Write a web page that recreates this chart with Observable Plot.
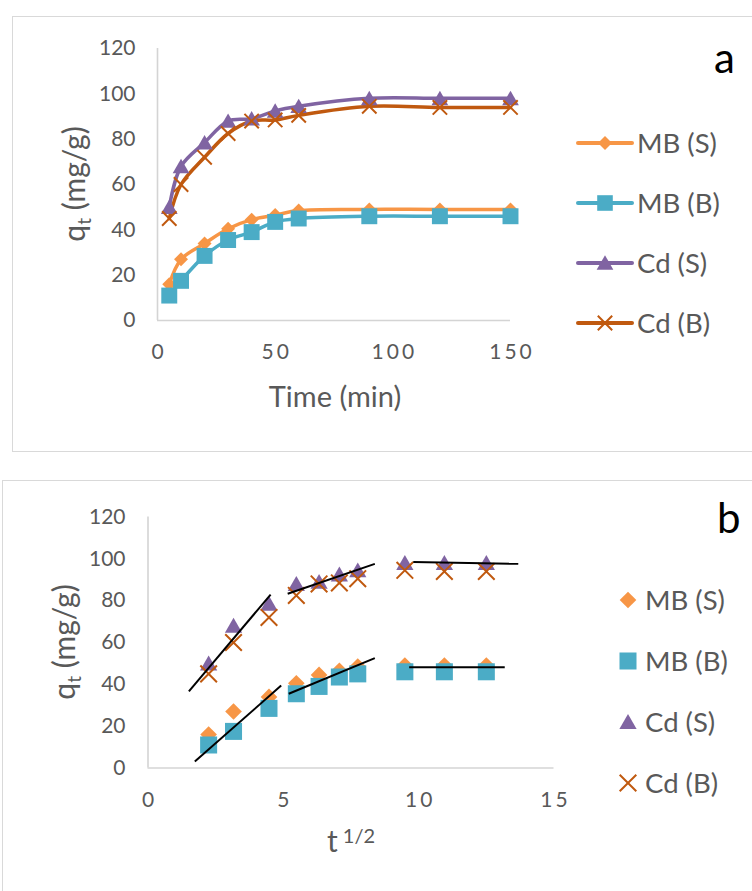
<!DOCTYPE html>
<html><head><meta charset="utf-8">
<script src="https://cdn.jsdelivr.net/npm/d3@7"></script>
<script src="https://cdn.jsdelivr.net/npm/@observablehq/plot@0.6"></script>
<style>
html,body{margin:0;padding:0;background:#fff;}
body{width:752px;height:891px;overflow:hidden;position:relative;font-family:Lato,"Open Sans",sans-serif;}
.box{position:absolute;border:1.5px solid #D9D9D9;box-sizing:border-box;}
.panel{position:absolute;left:0;}
</style></head><body>
<div class="box" style="left:12px;top:16px;width:800px;height:436px"></div>
<div class="box" style="left:2px;top:480px;width:800px;height:500px"></div>
<div id="pa" class="panel" style="top:0px"></div>
<div id="pb" class="panel" style="top:465px"></div>
<script>
// ---------- data ----------
const seriesNames = ["MB (S)", "MB (B)", "Cd (S)", "Cd (B)"];
const seriesColors = ["#F79646", "#4BACC6", "#8064A2", "#C0590F"];
const seriesSymbols = ["diamond2", "square", "triangle", "times"];
const timeMin = [5, 10, 20, 30, 40, 50, 60, 90, 120, 150];
const sqrtTime = [2.24, 3.16, 4.47, 5.48, 6.32, 7.07, 7.75, 9.49, 10.95, 12.5];
const qMBS = [16, 27, 34, 40.5, 44.5, 46.5, 48.5, 49, 49, 49];
const qMBB = [11, 17.5, 28.5, 35.5, 39, 43.5, 45, 46, 46, 46];
const qCdS = [50, 68, 78.5, 88, 89, 92.5, 94.5, 98, 98, 98];
const qCdB = [45, 60, 72, 82.5, 88, 88.5, 90.5, 94.5, 94, 94];
const yTicks = [0, 20, 40, 60, 80, 100, 120];
const xTicksA = [0, 50, 100, 150];
const xTicksB = [0, 5, 10, 15];
// intra-particle diffusion fit segments (panel b)
const fitX1 = [1.51, 5.16, 9.80, 1.73, 5.20, 9.65];
const fitY1 = [36.6, 83.3, 98.5, 3.1, 35.5, 48.2];
const fitX2 = [4.53, 8.38, 13.68, 4.92, 8.38, 13.18];
const fitY2 = [82.9, 97.6, 97.6, 39.4, 52.5, 48.2];

const qAll = [qMBS, qMBB, qCdS, qCdB];
const rows = [];
seriesNames.forEach((s, i) => timeMin.forEach((t, j) => rows.push({series: s, t, st: sqrtTime[j], q: qAll[i][j]})));
const fits = fitX1.map((x1, i) => ({x1, y1: fitY1[i], x2: fitX2[i], y2: fitY2[i]}));

const FONT = "Lato, 'Open Sans', sans-serif";
const GREY = "#595959";
const AXIS = "#D4D4D4";

function dotMarks(xKey, rs) {
  return seriesNames.map((s, i) => {
    const sym = seriesSymbols[i];
    const data = rows.filter(d => d.series === s);
    if (sym === "times") {
      return Plot.dot(data, {x: xKey, y: "q", symbol: sym, r: rs[i], stroke: seriesColors[i], strokeWidth: 2, fill: "none"});
    }
    return Plot.dot(data, {x: xKey, y: "q", symbol: sym, r: rs[i], fill: seriesColors[i], stroke: "none", dy: sym === "triangle" ? 2 : 0});
  });
}

function addLegend(svg, x0, y0, step, withLine, rs, markerX, textX) {
  const g = d3.select(svg).append("g").attr("font-family", FONT).attr("font-size", 27.5)
    .attr("fill", GREY).attr("text-anchor", "start");
  const map = {diamond2: d3.symbolDiamond2, square: d3.symbolSquare, triangle: d3.symbolTriangle, times: d3.symbolTimes};
  seriesNames.forEach((s, i) => {
    const y = y0 + i * step;
    if (withLine) {
      g.append("line").attr("x1", x0).attr("x2", x0 + 54).attr("y1", y).attr("y2", y)
        .attr("stroke", seriesColors[i]).attr("stroke-width", 4).attr("stroke-linecap", "round");
    }
    const path = d3.symbol(map[seriesSymbols[i]], Math.PI * rs[i] * rs[i])();
    const p = g.append("path").attr("d", path)
      .attr("transform", `translate(${markerX},${y + (seriesSymbols[i] === "triangle" ? 2 : 0)})`);
    if (seriesSymbols[i] === "times") p.attr("fill", "none").attr("stroke", seriesColors[i]).attr("stroke-width", 2);
    else p.attr("fill", seriesColors[i]);
    g.append("text").attr("x", textX).attr("y", y).attr("dy", "0.36em").text(s);
  });
}

function yTitle(svg, x, y) {
  const t = d3.select(svg).append("text").attr("transform", `translate(${x},${y}) rotate(-90)`)
    .attr("text-anchor", "middle").attr("font-family", FONT).attr("font-size", 30).attr("fill", GREY);
  t.append("tspan").text("q");
  t.append("tspan").attr("font-size", 19).attr("dy", 6).text("t");
  t.append("tspan").attr("dy", -6).text(" (mg/g)");
}

// ---------- panel a ----------
const plotA = Plot.plot({
  width: 752, height: 455,
  marginLeft: 157, marginRight: 242, marginTop: 48, marginBottom: 135,
  x: {domain: [0, 150]}, y: {domain: [0, 120]},
  style: {background: "none", color: GREY, fontFamily: FONT, fontSize: "21px", overflow: "visible"},
  marks: [
    Plot.ruleY([0], {stroke: AXIS, strokeWidth: 1.6}),
    Plot.ruleX([0], {stroke: AXIS, strokeWidth: 1.6}),
    Plot.axisX({ticks: xTicksA, tickSize: 0, tickPadding: 24, label: null}),
    Plot.axisY({ticks: yTicks, tickSize: 0, tickPadding: 22, label: null}),
    ...seriesNames.map((s, i) => Plot.line(rows.filter(d => d.series === s), {x: "t", y: "q", stroke: seriesColors[i], strokeWidth: 3.5, curve: "catmull-rom"})),
    ...dotMarks("t", [6.3, 9, 6.2, 6.6])
  ]
});
document.getElementById("pa").appendChild(plotA);
d3.select(plotA).selectAll('g[aria-label="x-axis tick label"] text').style("letter-spacing", "3px").attr("dx", 1.5);
d3.select(plotA).append("text").attr("x", 335).attr("y", 407).attr("text-anchor", "middle")
  .attr("font-family", FONT).attr("font-size", 29).attr("fill", GREY).text("Time (min)");
yTitle(plotA, 85, 184);
d3.select(plotA).append("text").attr("x", 714).attr("y", 73).attr("text-anchor", "start")
  .attr("font-family", FONT).attr("font-size", 42).attr("fill", "#000").text("a");
addLegend(plotA, 578, 143, 60, true, [6.3, 8.8, 6.2, 6.6], 605, 637);

// ---------- panel b ----------
const plotB = Plot.plot({
  width: 752, height: 426,
  marginLeft: 147.5, marginRight: 198.5, marginTop: 51.5, marginBottom: 123.5,
  x: {domain: [0, 15]}, y: {domain: [0, 120]},
  style: {background: "none", color: GREY, fontFamily: FONT, fontSize: "21px", overflow: "visible"},
  marks: [
    Plot.ruleY([0], {stroke: AXIS, strokeWidth: 1.6}),
    Plot.ruleX([0], {stroke: AXIS, strokeWidth: 1.6}),
    Plot.axisX({ticks: xTicksB, tickSize: 0, tickPadding: 24, label: null}),
    Plot.axisY({ticks: yTicks, tickSize: 0, tickPadding: 22.5, label: null}),
    ...dotMarks("st", [7.5, 9.6, 6.4, 7.6]),
    Plot.link(fits, {x1: "x1", y1: "y1", x2: "x2", y2: "y2", stroke: "#000", strokeWidth: 2})
  ]
});
document.getElementById("pb").appendChild(plotB);
d3.select(plotB).selectAll('g[aria-label="x-axis tick label"] text').style("letter-spacing", "3px").attr("dx", 1.5);
{
  const t = d3.select(plotB).append("text").attr("x", 351).attr("y", 852 - 465).attr("text-anchor", "middle")
    .attr("font-family", FONT).attr("font-size", 30).attr("fill", GREY);
  t.append("tspan").text("t");
  t.append("tspan").attr("font-size", 20).attr("dy", -9).text(" 1/2");
}
yTitle(plotB, 75, 642 - 465);
d3.select(plotB).append("text").attr("x", 717).attr("y", 533 - 465).attr("text-anchor", "start")
  .attr("font-family", FONT).attr("font-size", 42).attr("fill", "#000").text("b");
addLegend(plotB, 0, 600 - 465, 61, false, [7.5, 9.6, 6.4, 7.6], 628, 645);
</script>
</body></html>
